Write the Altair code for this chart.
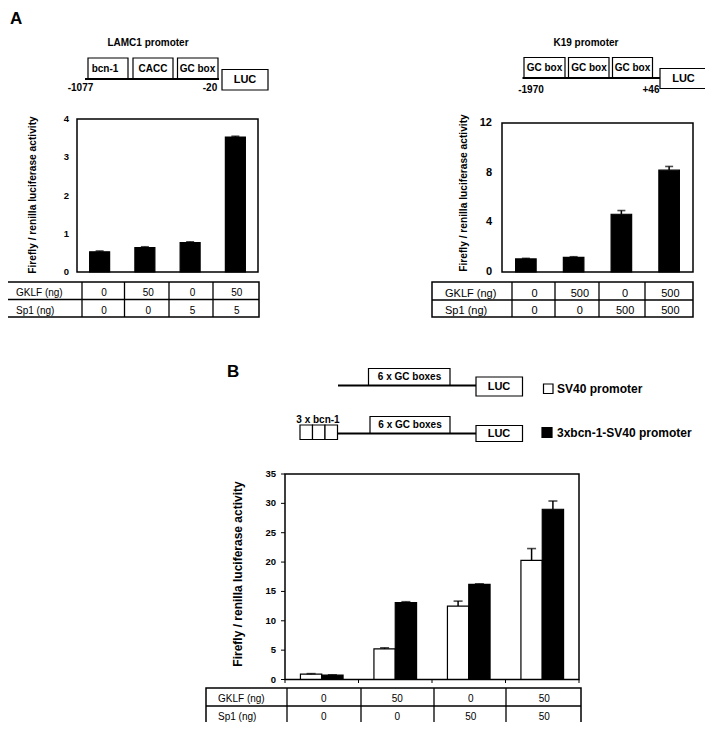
import altair as alt
import pandas as pd

FONT = "Liberation Sans, Arial, Helvetica, sans-serif"
M = 8            # page margin
W, H = 697, 714  # drawing size

# ------------------------------------------------------------------ data
conditions = ["1", "2", "3", "4"]
row_labels = ["GKLF (ng)", "Sp1  (ng)"]
y_title = "Firefly / renilla luciferase activity"

lamc1_values = [0.53, 0.64, 0.77, 3.53]
lamc1_errors = [0.02, 0.02, 0.02, 0.02]
lamc1_gklf = ["0", "50", "0", "50"]
lamc1_sp1 = ["0", "0", "5", "5"]
lamc1_ticks = [0, 1, 2, 3, 4]

k19_values = [1.05, 1.18, 4.65, 8.2]
k19_errors = [0.05, 0.05, 0.3, 0.3]
k19_gklf = ["0", "500", "0", "500"]
k19_sp1 = ["0", "0", "500", "500"]
k19_ticks = [0, 4, 8, 12]

b_series = ["SV40 promoter", "3xbcn-1-SV40 promoter"]
sv40_values = [0.9, 5.2, 12.5, 20.3]
sv40_errors = [0.1, 0.2, 0.85, 2.0]
bcn_values = [0.75, 13.1, 16.2, 29.0]
bcn_errors = [0.05, 0.15, 0.1, 1.4]
b_gklf = ["0", "50", "0", "50"]
b_sp1 = ["0", "0", "50", "50"]
b_ticks = [0, 5, 10, 15, 20, 25, 30, 35]


# ------------------------------------------------------------------ helpers
def P(v):
    return v - M


def px_x():
    return alt.Scale(domain=[M, M + W], range=[0, W])


def px_y():
    return alt.Scale(domain=[M, M + H], range=[0, H])


def bar_panel(df, ticks, box, pad, cap, tick_x, tick_font, grouped=False, y_ticks=False):
    left, top, right, bottom = box
    xs = alt.Scale(domain=conditions, range=[P(left), P(right)],
                   paddingInner=pad, paddingOuter=pad / 2)
    ys = alt.Scale(domain=[ticks[0], ticks[-1]], range=[P(bottom), P(top)])
    ex = alt.X("cond:N", scale=xs, axis=None)
    extra = {}
    if grouped:
        extra["xOffset"] = alt.XOffset(
            "series:N", scale=alt.Scale(domain=b_series, paddingInner=0, paddingOuter=0))
        fill = alt.Fill("series:N", scale=alt.Scale(domain=b_series, range=["white", "black"]),
                        legend=None)
    else:
        fill = alt.value("black")
    base = alt.Chart(df)
    bars = base.mark_bar(stroke="black", strokeWidth=1.2).encode(
        x=ex, y=alt.Y("value:Q", scale=ys, axis=None), fill=fill, **extra)
    errs = base.transform_calculate(hi="datum.value + datum.err")
    rules = errs.mark_rule(color="black", strokeWidth=1.5).encode(
        x=ex, y=alt.Y("value:Q", scale=ys, axis=None), y2="hi:Q", **extra)
    caps = errs.mark_tick(orient="horizontal", size=cap, thickness=1.6, color="black").encode(
        x=ex, y=alt.Y("hi:Q", scale=ys, axis=None), **extra)
    tdf = pd.DataFrame({"t": ticks})
    labels = alt.Chart(tdf).mark_text(
        align="right", baseline="middle", font=FONT, fontSize=tick_font, fontWeight="bold"
    ).encode(y=alt.Y("t:Q", scale=ys, axis=None), x=alt.value(P(tick_x)),
             text=alt.Text("t:Q", format="d"))
    layers = [bars, rules, caps, labels]
    if y_ticks:
        layers.append(alt.Chart(tdf).mark_rule(color="black", strokeWidth=1).encode(
            y=alt.Y("t:Q", scale=ys, axis=None),
            x=alt.value(P(left - 4)), x2=alt.value(P(left))))
    return alt.layer(*layers)


def table_text(gklf, sp1, cols_span, rows_span, label_x, font_size, dy):
    df = pd.DataFrame({
        "cond": conditions * 2,
        "row": [row_labels[0]] * 4 + [row_labels[1]] * 4,
        "txt": gklf + sp1,
    })
    xs = alt.Scale(domain=conditions, range=[P(cols_span[0]), P(cols_span[1])],
                   paddingInner=0, paddingOuter=0)
    ys = alt.Scale(domain=row_labels, range=[P(rows_span[0]), P(rows_span[1])],
                   paddingInner=0, paddingOuter=0)
    nums = alt.Chart(df).mark_text(font=FONT, fontSize=font_size, dy=dy, baseline="middle").encode(
        x=alt.X("cond:N", scale=xs, axis=None), y=alt.Y("row:N", scale=ys, axis=None),
        text="txt:N")
    labs = alt.Chart(pd.DataFrame({"row": row_labels})).mark_text(
        font=FONT, fontSize=font_size, dy=dy, align="left", baseline="middle"
    ).encode(y=alt.Y("row:N", scale=ys, axis=None), x=alt.value(P(label_x)), text="row:N")
    return alt.layer(nums, labs)


def px_rects(rows, **mark):
    df = pd.DataFrame(rows, columns=["x", "y", "x2", "y2", "fill"])
    return alt.Chart(df).mark_rect(stroke="black", **mark).encode(
        x=alt.X("x:Q", scale=px_x(), axis=None), x2="x2:Q",
        y=alt.Y("y:Q", scale=px_y(), axis=None), y2="y2:Q",
        fill=alt.Fill("fill:N", scale=None))


def px_lines(rows):
    df = pd.DataFrame(rows, columns=["x", "y", "x2", "y2", "w"])
    return alt.Chart(df).mark_rule(color="black").encode(
        x=alt.X("x:Q", scale=px_x(), axis=None), x2="x2:Q",
        y=alt.Y("y:Q", scale=px_y(), axis=None), y2="y2:Q",
        strokeWidth=alt.StrokeWidth("w:Q", scale=None))


def px_texts(rows, **mark):
    df = pd.DataFrame(rows, columns=["text", "x", "y"])
    return alt.Chart(df).mark_text(font=FONT, color="black", **mark).encode(
        x=alt.X("x:Q", scale=px_x(), axis=None),
        y=alt.Y("y:Q", scale=px_y(), axis=None), text="text:N")


# ------------------------------------------------------------------ diagrams (under)
boxes = px_rects([
    (88, 58, 128, 78.5, "white"), (133, 58, 173, 78.5, "white"), (177.5, 58, 218, 78.5, "white"),
    (222, 69.5, 268, 90, "white"),
    (524, 57.5, 565, 78, "white"), (568.5, 57.5, 609, 78, "white"), (612.5, 57.5, 652.5, 78, "white"),
    (660, 68.5, 706.5, 88.5, "white"),
    (368.5, 368.5, 450, 385.5, "white"), (476, 377, 522.5, 396, "white"),
    (543.5, 384, 553, 393.5, "white"),
    (300, 425, 312.5, 439.5, "white"), (312.5, 425, 325, 439.5, "white"),
    (325, 425, 337.5, 439.5, "white"),
    (370, 416.5, 450, 433.5, "white"), (476, 425.5, 522.5, 441.5, "white"),
    (542, 427.5, 552, 437.5, "black"),
], strokeWidth=1.2)

diagram_lines = px_lines([
    (85, 79, 219, 79, 2), (522.5, 78, 660, 78, 2),
    (338, 385.5, 476, 385.5, 2), (337.5, 433.5, 476, 433.5, 2),
])

labels10 = px_texts([
    ("LAMC1 promoter", 148, 43), ("K19 promoter", 586, 43),
    ("bcn-1", 105, 68.5), ("CACC", 153, 68.5), ("GC box", 197.5, 68.5),
    ("-1077", 80.5, 88), ("-20", 210, 88),
    ("GC box", 544.5, 67.5), ("GC box", 589, 67.5), ("GC box", 632.5, 67.5),
    ("-1970", 531, 90), ("+46", 651, 90),
    ("6 x GC boxes", 409.5, 377), ("6 x GC boxes", 410, 425), ("3 x bcn-1", 318, 420),
], fontSize=10, fontWeight="bold", align="center", baseline="middle")

luc = px_texts([
    ("LUC", 245, 80), ("LUC", 683.5, 78.5), ("LUC", 499, 386.5), ("LUC", 499, 433.5),
], fontSize=11, fontWeight="bold", align="center", baseline="middle")

legend_txt = px_texts([
    ("SV40 promoter", 557, 388.5), ("3xbcn-1-SV40 promoter", 557, 433),
], fontSize=12, fontWeight="bold", align="left", baseline="middle")

letters = px_texts([("A", 10, 23.5), ("B", 227, 377)],
                   fontSize=17, fontWeight="bold", align="left", baseline="alphabetic")

titles_a = px_texts([(y_title, 33, 195), (y_title, 464, 193)],
                    fontSize=10.2, fontWeight="bold", align="center", baseline="middle", angle=270)
titles_b = px_texts([(y_title, 238, 574)],
                    fontSize=12, fontWeight="bold", align="center", baseline="middle", angle=270)

under = alt.layer(boxes, diagram_lines, labels10, luc, legend_txt, letters, titles_a, titles_b)

# ------------------------------------------------------------------ bar panels
df_a1 = pd.DataFrame({"cond": conditions, "value": lamc1_values, "err": lamc1_errors})
df_a2 = pd.DataFrame({"cond": conditions, "value": k19_values, "err": k19_errors})
df_b = pd.DataFrame({
    "cond": conditions * 2,
    "series": [b_series[0]] * 4 + [b_series[1]] * 4,
    "value": sv40_values + bcn_values,
    "err": sv40_errors + bcn_errors,
})

panel_a1 = bar_panel(df_a1, lamc1_ticks, (77, 119, 258, 272), 0.558, 8, 69, 9.5)
panel_a2 = bar_panel(df_a2, k19_ticks, (502, 123, 693, 272), 0.57, 8, 492, 11)
panel_b = bar_panel(df_b, b_ticks, (285, 474, 579, 679.5), 0.42, 9, 276, 9.5,
                    grouped=True, y_ticks=True)

# ------------------------------------------------------------------ tables
table_a1 = table_text(lamc1_gklf, lamc1_sp1, (82, 259), (282, 317), 16, 10, 2.5)
table_a2 = table_text(k19_gklf, k19_sp1, (512, 693), (282, 317), 445, 11, 3)
table_b = table_text(b_gklf, b_sp1, (287, 581), (688, 723), 218, 10, 2.5)

# ------------------------------------------------------------------ frames & grid (over)
frames = px_rects([
    (77, 119, 258, 272, "transparent"), (502, 123, 693, 272, "transparent"),
    (285, 474, 579, 679.5, "transparent"),
    (3, 282, 259, 317, "transparent"), (432, 282, 693, 317, "transparent"),
    (206, 688, 581, 723, "transparent"),
], strokeWidth=1.5)

grid = px_lines([
    (3, 299.5, 259, 299.5, 1.3), (82, 282, 82, 317, 1.3), (124.5, 282, 124.5, 317, 1.3),
    (169, 282, 169, 317, 1.3), (213, 282, 213, 317, 1.3),
    (432, 300, 693, 300, 1.3), (512, 282, 512, 317, 1.3), (555, 282, 555, 317, 1.3),
    (599, 282, 599, 317, 1.3), (645, 282, 645, 317, 1.3),
    (206, 706, 581, 706, 1.3), (287, 688, 287, 723, 1.3), (361, 688, 361, 723, 1.3),
    (434, 688, 434, 723, 1.3), (506, 688, 506, 723, 1.3),
    (285, 679.5, 285, 683, 1), (358.5, 679.5, 358.5, 683, 1), (432, 679.5, 432, 683, 1),
    (505.5, 679.5, 505.5, 683, 1), (579, 679.5, 579, 683, 1),
])

over = alt.layer(frames, grid)

chart = alt.layer(
    under, panel_a1, panel_a2, panel_b, table_a1, table_a2, table_b, over
).resolve_scale(
    x="independent", y="independent"
).properties(
    width=W, height=H, autosize="none", padding=0
).configure_view(strokeWidth=0)

chart.save("out.html", embed_options={"renderer": "svg", "actions": False})
